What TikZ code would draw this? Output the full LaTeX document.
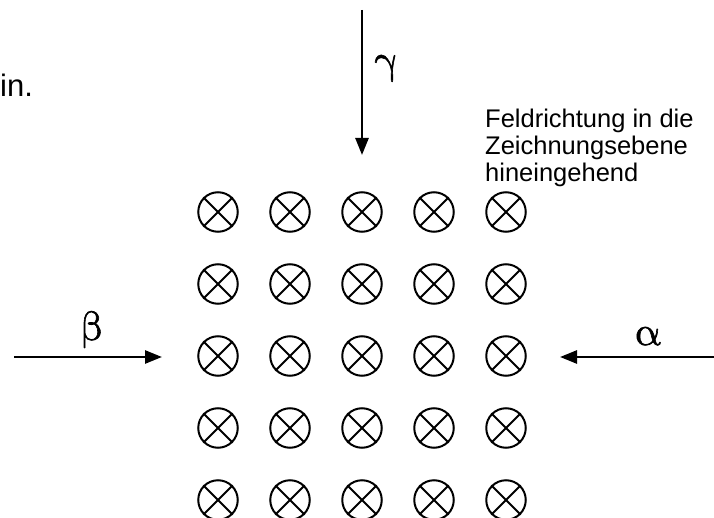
\documentclass[tikz,border=0pt]{standalone}
\usepackage{fontspec}
\setmainfont{Liberation Sans}
\newfontfamily\griech[FakeBold=1.5]{Latin Modern Math}
\usetikzlibrary{arrows.meta}

\begin{document}
\begin{tikzpicture}[x=1pt,y=-1pt,
feld/.style={%
circle,
draw,
line width=2pt,
minimum size=39.5pt,
inner sep=0pt
},
kreuz/.style={%
line width=2pt
},
pfeil/.style={%
line width=2.6pt,
-{Triangle[length=17pt,width=13pt]}
},
gr/.style={%
anchor=base,
inner sep=0pt,
font=\griech\fontsize{41}{41}\selectfont
},
txt/.style={%
anchor=north west,
align=left,
inner sep=0pt,
font=\fontsize{25.5}{26.8}\selectfont
},
]
\useasboundingbox (0,0) rectangle (714,518);
\clip (0,0) rectangle (714,518);
%% Feld
\foreach \i in {0,...,4}{%
\foreach \j in {0,...,4}{%
\node[feld] (f\i\j) at (218+72*\i,212+72*\j) {};
\draw[kreuz] (f\i\j.north west)--(f\i\j.south east) (f\i\j.north east)--(f\i\j.south west);
}
}
%% Texte
\node[anchor=base west,inner sep=0pt,font=\fontsize{31}{31}\selectfont] (rest) at (0,97) {in.};
\node[txt] (richtung) at (485,109) {Feldrichtung in die\\Zeichnungsebene\\hineingehend};
%% Strahlen
\coordinate (g0) at (362,10);
\coordinate (g1) at (362,155);
\draw[pfeil] (g0)--(g1);
\node[gr] (gamma) at (386,73) {γ};
\coordinate (b0) at (14,357);
\coordinate (b1) at (162,357);
\draw[pfeil] (b0)--(b1);
\node[gr] (beta) at (92,340) {β};
\coordinate (a0) at (716,357);
\coordinate (a1) at (560,357);
\draw[pfeil] (a0)--(a1);
\node[gr] (alpha) at (647.5,345) {α};
\end{tikzpicture}
\end{document}
